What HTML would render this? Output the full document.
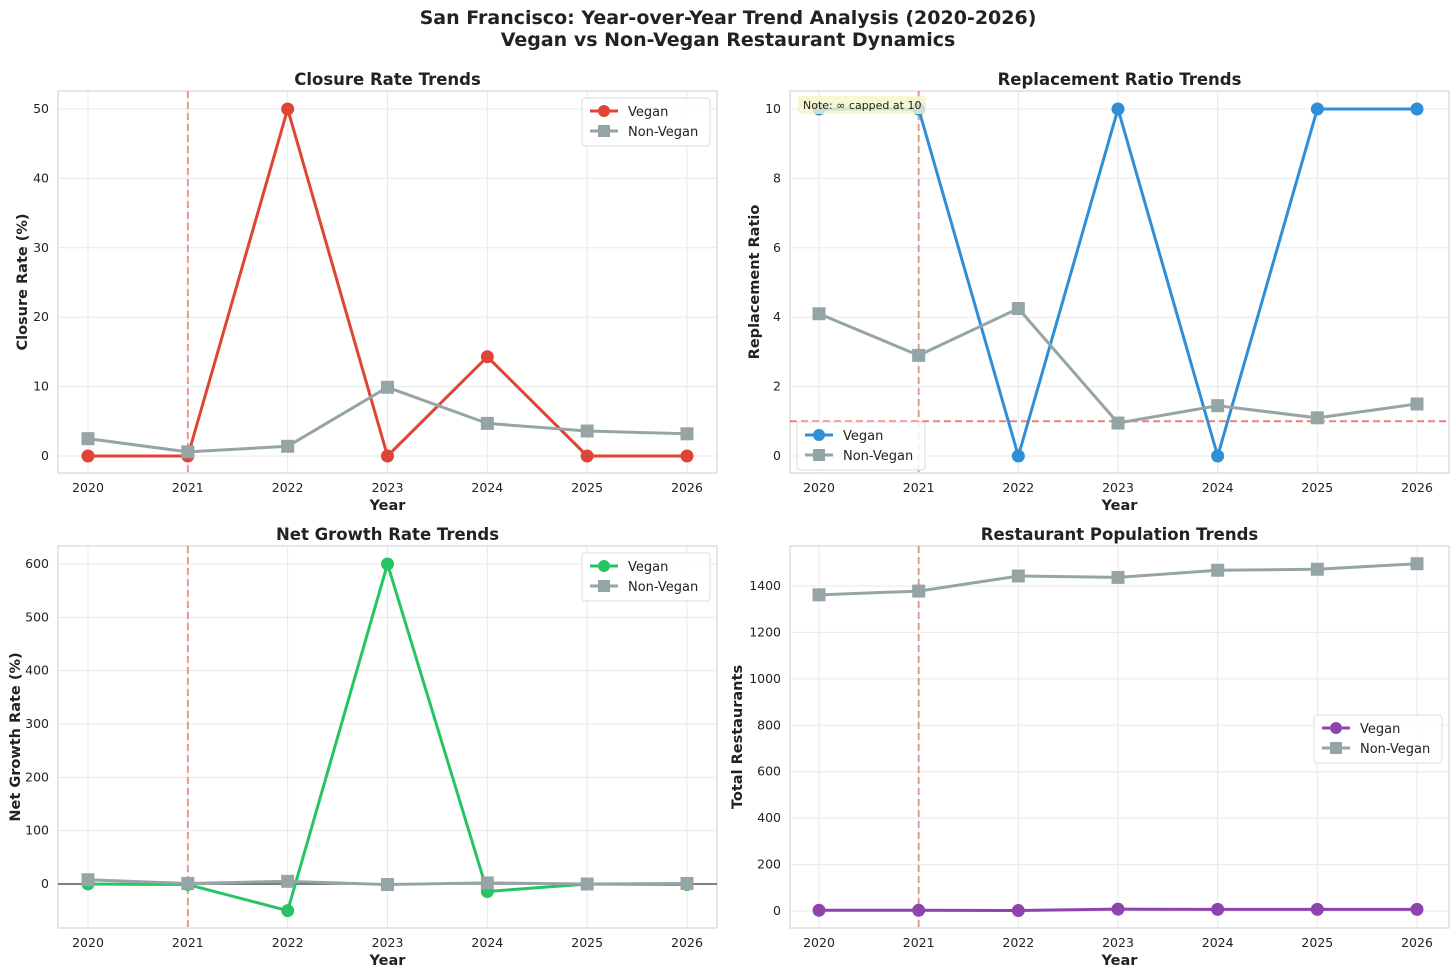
<!DOCTYPE html>
<html><head><meta charset="utf-8"><style>
body{margin:0;background:#fff;}
svg{display:block;font-family:"DejaVu Sans","Liberation Sans",sans-serif;}
</style></head><body>
<svg id="c" width="1456" height="975">
<text x="728" y="24" text-anchor="middle" font-size="19" font-weight="bold" fill="#222">San Francisco: Year-over-Year Trend Analysis (2020-2026)</text>
<text x="728" y="46" text-anchor="middle" font-size="19" font-weight="bold" fill="#222">Vegan vs Non-Vegan Restaurant Dynamics</text>
</svg>
<script>
const years=[2020,2021,2022,2023,2024,2025,2026];
const closureVegan=[0,0,50,0,14.3,0,0];
const closureNonVegan=[2.5,0.6,1.4,9.9,4.7,3.6,3.2];
const ratioVegan=[10,10,0,10,0,10,10];
const ratioNonVegan=[4.1,2.9,4.25,0.95,1.45,1.1,1.5];
const growthVegan=[0,-1,-50,600,-14,0,-1];
const growthNonVegan=[8,1,5,-1,2,0,1];
const popVegan=[3,3,2,8,7,7,7];
const popNonVegan=[1362,1378,1443,1437,1468,1472,1496];
const closureTicks=[0,10,20,30,40,50];
const ratioTicks=[0,2,4,6,8,10];
const growthTicks=[0,100,200,300,400,500,600];
const popTicks=[0,200,400,600,800,1000,1200,1400];

const NS="http://www.w3.org/2000/svg";
const svg=document.getElementById('c');
function el(tag,attrs,parent){const e=document.createElementNS(NS,tag);for(const k in attrs)e.setAttribute(k,attrs[k]);(parent||svg).appendChild(e);return e;}

function panel(o){
  const g=el('g',{});
  
  
  const L=o.L,R=o.R,T=o.T,B=o.B;
  const xs=y=>o.x0+(y-2020)*(o.x1-o.x0)/6;
  const ys=v=>o.y0+(v-o.v0)*(o.y1-o.y0)/(o.v1-o.v0);
  years.forEach(y=>{const l=el('line',{x1:xs(y),x2:xs(y),y1:T,y2:B,stroke:'#e8e8e8','stroke-width':1},g);
    
    const t=el('text',{x:xs(y),y:B+19,'text-anchor':'middle','font-size':12.5,fill:'#222'},g);t.textContent=y;
    });
  o.ticks.forEach(v=>{const l=el('line',{x1:L,x2:R,y1:ys(v),y2:ys(v),stroke:'#e8e8e8','stroke-width':1},g);
    
    const t=el('text',{x:L-9,y:ys(v)+4,'text-anchor':'end','font-size':12.5,fill:'#222'},g);t.textContent=v;
    });
  const fr=el('rect',{x:L,y:T,width:R-L,height:B-T,fill:'none',stroke:'#ccc','stroke-width':1},g);
  
  if(o.hline!==undefined){const h=el('line',{x1:L,x2:R,y1:ys(o.hline),y2:ys(o.hline),stroke:o.hcolor,'stroke-width':o.hdash?2:1.5,'stroke-dasharray':o.hdash||'none',opacity:o.hdash?0.7:1},g);
    }
  const v=el('line',{x1:xs(2021),x2:xs(2021),y1:T,y2:B,stroke:'#e74c3c','stroke-width':2,'stroke-dasharray':'7,4',opacity:0.55},g);
  
  function series(vals,color,marker,nm){
    const pl=el('polyline',{points:vals.map((d,i)=>xs(years[i])+','+ys(d)).join(' '),fill:'none',stroke:color,'stroke-width':3,'stroke-linejoin':'round'},g);
    
    vals.forEach((d,i)=>{let m;
      if(marker==='o')m=el('circle',{cx:xs(years[i]),cy:ys(d),r:6.5,fill:color},g);
      else m=el('rect',{x:xs(years[i])-6.5,y:ys(d)-6.5,width:13,height:13,fill:color},g);
      });
  }
  series(o.v,o.color,'o','vegan');
  series(o.nv,'#95a5a6','s','non-vegan');
  const tt=el('text',{x:(L+R)/2,y:T-6,'text-anchor':'middle','font-size':16.5,'font-weight':'bold',fill:'#222'},g);tt.textContent=o.title;
  
  const xl=el('text',{x:(L+R)/2,y:B+37,'text-anchor':'middle','font-size':14.5,'font-weight':'bold',fill:'#222'},g);xl.textContent='Year';
  
  const cy=(T+B)/2;
  const yl=el('text',{x:o.ylx,y:cy,'text-anchor':'middle','font-size':14.5,'font-weight':'bold',fill:'#222',transform:`rotate(-90 ${o.ylx} ${cy})`},g);yl.textContent=o.ylabel;
  
  const lg=el('g',{},g);
  el('rect',{x:o.lx,y:o.ly,width:128,height:48,rx:3,fill:'#fff','fill-opacity':0.85,stroke:'#ddd'},lg);
  [[o.color,'o','Vegan'],['#95a5a6','s','Non-Vegan']].forEach((e,i)=>{const yy=o.ly+13+i*20;
    el('line',{x1:o.lx+8,x2:o.lx+36,y1:yy,y2:yy,stroke:e[0],'stroke-width':3},lg);
    if(e[1]==='o')el('circle',{cx:o.lx+22,cy:yy,r:6,fill:e[0]},lg);else el('rect',{x:o.lx+16,y:yy-6,width:12,height:12,fill:e[0]},lg);
    const t=el('text',{x:o.lx+46,y:yy+5,'font-size':13,fill:'#222'},lg);t.textContent=e[2];
    });
  return g;
}
panel({name:'closure-rate-panel',L:58,R:717,T:91,B:473,x0:88,x1:687,v0:0,v1:50,y0:456,y1:109,ticks:closureTicks,v:closureVegan,nv:closureNonVegan,color:'#e04434',title:'Closure Rate Trends',ylabel:'Closure Rate (%)',ylx:27,lx:582,ly:98});
panel({name:'replacement-ratio-panel',L:790,R:1449,T:91,B:473,x0:819,x1:1417,v0:0,v1:10,y0:456,y1:109,ticks:ratioTicks,v:ratioVegan,nv:ratioNonVegan,color:'#2e8fd6',title:'Replacement Ratio Trends',ylabel:'Replacement Ratio',ylx:759,lx:797,ly:422,hline:1,hcolor:'#e74c3c',hdash:'7,4'});
panel({name:'net-growth-panel',L:58,R:717,T:546,B:928,x0:88,x1:687,v0:0,v1:600,y0:884,y1:564,ticks:growthTicks,v:growthVegan,nv:growthNonVegan,color:'#27c464',title:'Net Growth Rate Trends',ylabel:'Net Growth Rate (%)',ylx:20,lx:582,ly:553,hline:0,hcolor:'#555'});
panel({name:'population-panel',L:790,R:1449,T:546,B:928,x0:819,x1:1417,v0:0,v1:1400,y0:911,y1:586,ticks:popTicks,v:popVegan,nv:popNonVegan,color:'#8e44ad',title:'Restaurant Population Trends',ylabel:'Total Restaurants',ylx:742,lx:1314,ly:715});
const nb=el('rect',{x:798,y:96,width:128,height:18,rx:3,fill:'#f5f5c8',opacity:0.8});

const nt=el('text',{x:803,y:109,'font-size':11,fill:'#222'});nt.textContent='Note: ∞ capped at 10';

</script>
</body></html>
